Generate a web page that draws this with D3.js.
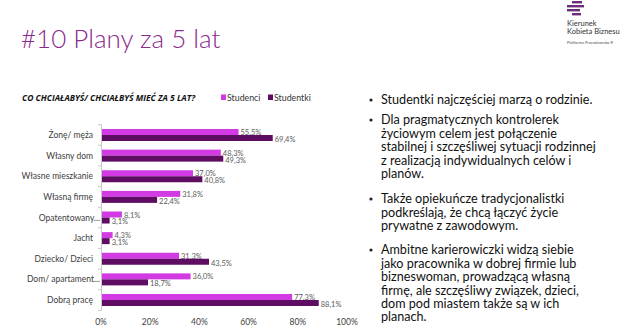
<!DOCTYPE html>
<html><head><meta charset="utf-8">
<script src="https://cdn.jsdelivr.net/npm/d3@7"></script>
<style>html,body{margin:0;padding:0;background:#fff;}svg{display:block;}</style>
</head><body>
<script>
const categories = ["Żonę/ męża","Własny dom","Własne mieszkanie","Własną firmę","Opatentowany...","Jacht","Dziecko/ Dzieci","Dom/ apartament...","Dobrą pracę"];
const seriesNames = ["Studenci","Studentki"];
const studenci = [55.5,48.3,37.0,31.8,8.1,4.3,31.3,36.0,77.3];
const studentki = [69.4,49.3,40.8,22.4,3.1,3.1,43.5,18.7,88.1];
const xTicks = [0,20,40,60,80,100];
const title = "#10 Plany za 5 lat";
const chartTitle = "CO CHCIAŁABYŚ/ CHCIAŁBYŚ MIEĆ ZA 5 LAT?";
const bullets = [
  ["Studentki najczęściej marzą o rodzinie."],
  ["Dla pragmatycznych kontrolerek","życiowym celem jest połączenie","stabilnej i szczęśliwej sytuacji rodzinnej","z realizacją indywidualnych celów i","planów."],
  ["Także opiekuńcze tradycjonalistki","podkreślają, że chcą łączyć życie","prywatne z zawodowym."],
  ["Ambitne karierowiczki widzą siebie","jako pracownika w dobrej firmie lub","bizneswoman, prowadzącą własną","firmę, ale szczęśliwy związek, dzieci,","dom pod miastem także są w ich","planach."]
];
const colors = ["#d23be4","#5f0c63"];

const W=624,H=329;
const svg=d3.select("body").append("svg").attr("width",W).attr("height",H);
svg.append("rect").attr("width",W).attr("height",H).attr("fill","#fff");

// Title
svg.append("text").attr("x",21).attr("y",48).attr("font-family","Lato").attr("font-weight",300)
  .attr("font-size",26).attr("fill","#8a2a8e").text(title);

// Logo
const logo=svg.append("g");
[[572,1,10],[567,5,9],[576,5,8],[567,9,13],[572,13,9]].forEach(([x,y,w])=>{
  logo.append("rect").attr("x",x).attr("y",y).attr("width",w).attr("height",2.4).attr("fill","#6b2c7a");
});
logo.append("text").attr("x",567).attr("y",26).attr("font-family","Lato").attr("font-size",7.5).attr("fill","#333").text("Kierunek");
logo.append("text").attr("x",567).attr("y",34).attr("font-family","Lato").attr("font-size",7.5).attr("fill","#333").text("Kobieta Biznesu");
logo.append("text").attr("x",567).attr("y",44).attr("font-family","Lato").attr("font-size",4).attr("fill","#555").text("Platforma Pracodawców R");

// Chart title & legend
svg.append("text").attr("x",22).attr("y",101).attr("font-family","Open Sans").attr("font-weight",700)
  .attr("font-style","italic").attr("font-size",8.5).attr("fill","#111").text(chartTitle);
const leg=svg.append("g");
const legX=[221,268];
seriesNames.forEach((s,i)=>{
  leg.append("rect").attr("x",legX[i]).attr("y",94.5).attr("width",5).attr("height",5.5).attr("fill",colors[i]);
  leg.append("text").attr("x",legX[i]+6).attr("y",101).attr("font-family","Lato").attr("font-size",8.8).attr("fill","#333").text(s);
});

// Scales
const x=d3.scaleLinear().domain([0,100]).range([101,347]);
const y=d3.scaleBand().domain(categories).range([124.7,310.3]).padding(0);
const bw=y.bandwidth();
const ys=d3.scaleBand().domain(seriesNames).range([bw/2-6,bw/2+6]);

// y axis line and ticks
const g=svg.append("g");
g.append("line").attr("x1",x(0)+0.5).attr("x2",x(0)+0.5).attr("y1",y.range()[0]).attr("y2",y.range()[1]).attr("stroke","#c8c8c8");
const bounds=categories.map(c=>y(c)).concat([y.range()[1]]);
g.selectAll(".tk").data(bounds).enter().append("line").attr("x1",x(0)-3).attr("x2",x(0)+0.5)
  .attr("y1",d=>d).attr("y2",d=>d).attr("stroke","#c8c8c8");

// bars
const data=[studenci,studentki];
data.forEach((vals,si)=>{
  g.selectAll(".b"+si).data(vals).enter().append("rect")
    .attr("x",x(0)+1).attr("y",(d,i)=>y(categories[i])+ys(seriesNames[si]))
    .attr("width",d=>x(d)-x(0)).attr("height",ys.bandwidth()).attr("fill",colors[si]);
  g.selectAll(".l"+si).data(vals).enter().append("text")
    .attr("x",d=>x(d)+3).attr("y",(d,i)=>y(categories[i])+ys(seriesNames[si])+ys.bandwidth()/2+(si===0?3.0:3.9))
    .attr("font-family","Lato").attr("font-size",7.5).attr("fill","#595959")
    .text(d=>d.toFixed(1).replace(".",",")+"%");
});

// category labels
g.selectAll(".cl").data(categories).enter().append("text")
  .attr("x",d=>d.endsWith("...")?100:93).attr("y",d=>y(d)+bw/2+3).attr("text-anchor","end")
  .attr("font-family","Lato").attr("font-size",8.5).attr("fill","#404040").text(d=>d);

// x axis labels
g.selectAll(".xl").data(xTicks).enter().append("text")
  .attr("x",d=>x(d)).attr("y",325).attr("text-anchor","middle")
  .attr("font-family","Lato").attr("font-size",8.5).attr("fill","#404040").text(d=>d+"%");

// bullets
const starts=[100,120,199,250];
const lh=13.4;
bullets.forEach((lines,bi)=>{
  svg.append("circle").attr("cx",371).attr("cy",starts[bi]).attr("r",1.6).attr("fill","#222");
  lines.forEach((ln,li)=>{
    svg.append("text").attr("x",381).attr("y",starts[bi]+li*lh+4.3).attr("font-family","Lato")
      .attr("font-size",12.6).attr("fill","#111").text(ln);
  });
});
</script>
</body></html>
